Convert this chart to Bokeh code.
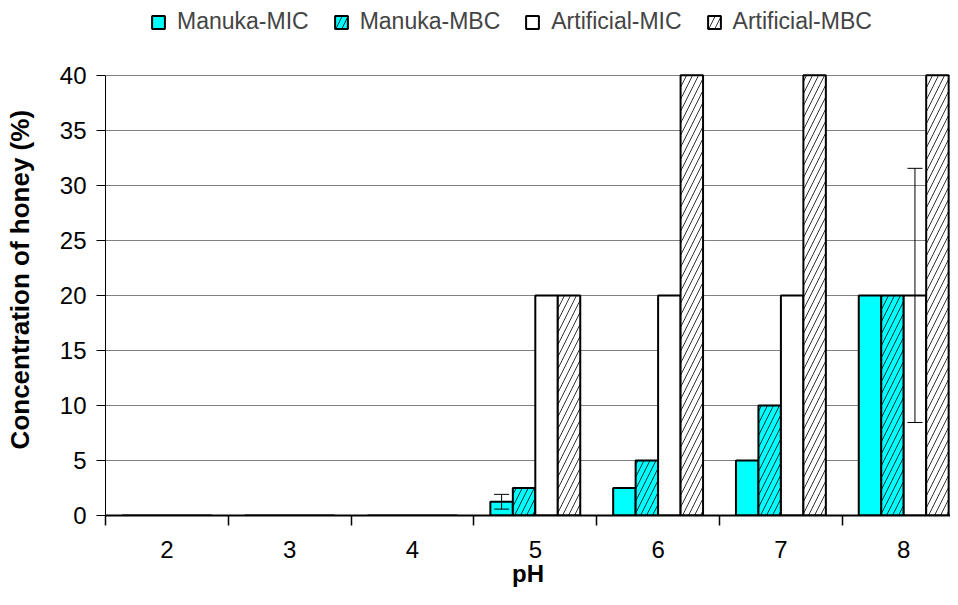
from bokeh.plotting import figure
from bokeh.models import (ColumnDataSource, Range1d, FixedTicker, Whisker, TeeHead,
                          Legend, LegendItem)
from bokeh.embed import file_html
from bokeh.resources import INLINE

# ---- data ----
ph_labels = ["2", "3", "4", "5", "6", "7", "8"]
manuka_mic = [0, 0, 0, 1.25, 2.5, 5, 20]
manuka_mbc = [0, 0, 0, 2.5, 5, 10, 20]
artificial_mic = [0, 0, 0, 20, 20, 20, 20]
artificial_mbc = [0, 0, 0, 20, 40, 40, 40]
# error bars (series, pH, lower, upper)
err_series = ["Manuka-MIC", "Artificial-MIC"]
err_ph = ["5", "8"]
err_lower = [0.58, 8.45]
err_upper = [1.92, 31.55]
y_ticks = [0, 5, 10, 15, 20, 25, 30, 35, 40]

FONT = "Liberation Sans"
CYAN = "#00FFFF"
BAR_W = 0.183
offsets = {"Manuka-MIC": -1.5 * BAR_W, "Manuka-MBC": -0.5 * BAR_W,
           "Artificial-MIC": 0.5 * BAR_W, "Artificial-MBC": 1.5 * BAR_W}

pos = list(range(1, len(ph_labels) + 1))

# layout: the frame reaches the top of the figure so that the legend (drawn
# inside the frame) is not clipped; the value axis stops at 40, 75px below top.
H, BOTTOM, TOP_GAP = 589, 73, 75
y_max = y_ticks[-1]
y_end = y_max * (H - BOTTOM) / (H - BOTTOM - TOP_GAP)

p = figure(width=950, height=H, output_backend="svg", toolbar_location=None,
           x_range=Range1d(0.5, 7.381), y_range=Range1d(0, y_end),
           min_border_left=105, min_border_right=0, min_border_top=0, min_border_bottom=BOTTOM)
p.outline_line_color = None
p.background_fill_color = "white"

series = [
    ("Manuka-MIC", manuka_mic, CYAN, None),
    ("Manuka-MBC", manuka_mbc, CYAN, "/"),
    ("Artificial-MIC", artificial_mic, "white", None),
    ("Artificial-MBC", artificial_mbc, "white", "/"),
]
items = []
for name, vals, color, hatch in series:
    src = ColumnDataSource(dict(x=[x + offsets[name] for x in pos], top=vals))
    kw = {}
    if hatch:
        kw = dict(hatch_pattern=hatch, hatch_color="black", hatch_scale=12, hatch_weight=0.8)
    r = p.vbar(x="x", top="top", bottom=0, width=BAR_W, source=src,
               fill_color=color, line_color="black", line_width=2, **kw)
    items.append(LegendItem(label=name, renderers=[r]))

# error bars
ex = [pos[ph_labels.index(ph)] + offsets[s] for s, ph in zip(err_series, err_ph)]
esrc = ColumnDataSource(dict(x=ex, lower=err_lower, upper=err_upper))
wh = Whisker(source=esrc, base="x", lower="lower", upper="upper",
             line_color="black", line_width=1, level="annotation",
             upper_head=TeeHead(size=15, line_color="black", line_width=1),
             lower_head=TeeHead(size=15, line_color="black", line_width=1))
p.add_layout(wh)

# x axis: labels at centres, ticks at boundaries
p.xaxis.ticker = FixedTicker(ticks=pos, minor_ticks=[x - 0.5 for x in pos] + [pos[-1] + 0.5])
p.xaxis.major_label_overrides = {x: lab for x, lab in zip(pos, ph_labels)}
p.xaxis.major_tick_out = 0
p.xaxis.major_tick_in = 0
p.xaxis.minor_tick_out = 10
p.xaxis.minor_tick_in = 0
p.xaxis.minor_tick_line_color = "black"
p.xaxis.minor_tick_line_width = 1.5
p.xaxis.axis_line_color = "black"
p.xaxis.axis_line_width = 2
p.xaxis.major_label_standoff = 15
p.xaxis.major_label_text_font = FONT
p.xaxis.major_label_text_font_size = "24px"
p.xaxis.major_label_text_color = "black"
p.xaxis.axis_label = "pH"
p.xaxis.axis_label_text_font = FONT
p.xaxis.axis_label_text_font_style = "bold"
p.xaxis.axis_label_text_font_size = "24px"
p.xaxis.axis_label_text_color = "black"
p.xaxis.axis_label_standoff = -1
p.xgrid.grid_line_color = None

p.yaxis.ticker = FixedTicker(ticks=y_ticks, minor_ticks=[])
p.yaxis.bounds = (0, y_max)
p.yaxis.major_tick_out = 9
p.yaxis.major_tick_in = 0
p.yaxis.major_tick_line_color = "black"
p.yaxis.axis_line_color = "black"
p.yaxis.major_label_standoff = 10
p.yaxis.major_label_text_font = FONT
p.yaxis.major_label_text_font_size = "24px"
p.yaxis.major_label_text_color = "black"
# trailing no-break spaces centre the title on the 0-40 part of the axis
p.yaxis.axis_label = "Concentration of honey (%)" + "\u00a0" * 6
p.yaxis.axis_label_text_font = FONT
p.yaxis.axis_label_text_font_style = "bold"
p.yaxis.axis_label_text_font_size = "26px"
p.yaxis.axis_label_text_color = "black"
p.yaxis.axis_label_standoff = 22
p.ygrid.ticker = FixedTicker(ticks=y_ticks)
p.ygrid.grid_line_color = "#808080"
p.ygrid.grid_line_width = 1

legend = Legend(items=items, orientation="horizontal", location=(45, 480),
                label_text_font=FONT, label_text_font_size="23px",
                glyph_width=16, glyph_height=16, label_standoff=11, spacing=24,
                padding=0, margin=0, border_line_color=None, background_fill_alpha=0,
                level="overlay")
p.add_layout(legend, "center")

open("out.html", "w").write(file_html(p, INLINE))
